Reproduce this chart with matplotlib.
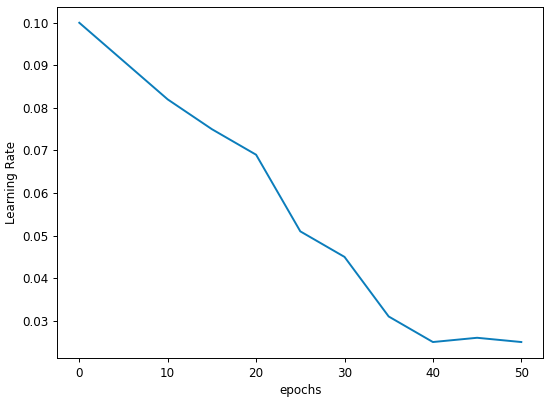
import matplotlib
matplotlib.use("Agg")
import matplotlib.pyplot as plt

epochs = [0, 5, 10, 15, 20, 25, 30, 35, 40, 45, 50]
learning_rate = [0.100, 0.091, 0.082, 0.075, 0.069, 0.051, 0.045, 0.031, 0.025, 0.026, 0.025]

plt.rcParams["font.size"] = 8.6
plt.rcParams["axes.linewidth"] = 0.7
plt.rcParams["xtick.major.width"] = 0.7
plt.rcParams["ytick.major.width"] = 0.7
plt.rcParams["xtick.major.size"] = 3
plt.rcParams["ytick.major.size"] = 3

fig, ax = plt.subplots(figsize=(5.5, 4), dpi=100)
fig.subplots_adjust(left=0.104, right=0.988, top=0.983, bottom=0.105)

ax.plot(epochs, learning_rate, color="#0b7dbb", lw=1.4)
ax.set_xlabel("epochs", labelpad=3)
ax.set_ylabel("Learning Rate", labelpad=3)
ax.set_xticks([0, 10, 20, 30, 40, 50])

fig.savefig("out.png", dpi=100)
